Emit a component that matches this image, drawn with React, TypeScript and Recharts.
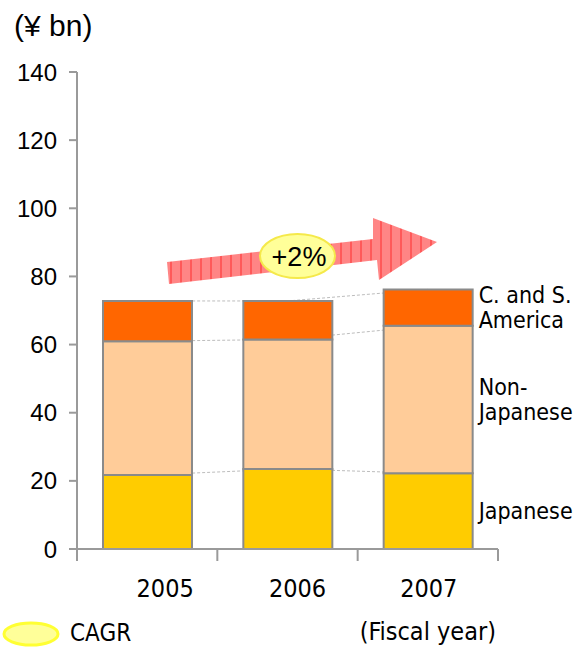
import { Bar, ComposedChart, LabelList, Line, XAxis, YAxis } from "recharts"

const years = ["2005", "2006", "2007"]
const japanese = [21.7, 23.5, 22.2]
const nonJapanese = [39.3, 38.0, 43.3]
const csAmerica = [11.8, 11.3, 10.7]
const yTicks = [0, 20, 40, 60, 80, 100, 120, 140]
const cagr = "+2%"

// stacked rows plus running totals for the dashed series lines
const rows = years.map((year, i) => ({
  year,
  japanese: japanese[i],
  nonJapanese: nonJapanese[i],
  csAmerica: csAmerica[i],
  top1: japanese[i],
  top2: japanese[i] + nonJapanese[i],
  top3: japanese[i] + nonJapanese[i] + csAmerica[i],
}))

const axisGray = "#9a9a9a"
const arial = "'Liberation Sans', Arial, sans-serif"
const tahoma = "'DejaVu Sans Condensed', 'DejaVu Sans', sans-serif"

// year labels sit a little right of the bar centres
const labelNudge = [18, 10, 1]

function YearTick(props: any) {
  const { x, y, payload, index } = props
  const half = payload?.offset ?? 0
  const i = payload?.index ?? index
  return (
    <g>
      <line x1={x - half} y1={y} x2={x - half} y2={y + 12} stroke={axisGray} strokeWidth={2} />
      {i === years.length - 1 && (
        <line x1={x + half} y1={y} x2={x + half} y2={y + 12} stroke={axisGray} strokeWidth={2} />
      )}
      <text x={x + labelNudge[i]} y={y + 48} textAnchor="middle" fontSize={25} fontFamily={tahoma} fill="#000">
        {payload.value}
      </text>
    </g>
  )
}

function sideLabel(lines: string[]) {
  return (props: any) => {
    const { index, x, y, width, height } = props
    if (index !== years.length - 1) return null
    const left = Number(x) + Number(width) + 6
    const mid = Number(y) + Number(height) / 2
    const lh = 25
    const start = mid - ((lines.length - 1) * lh) / 2
    return (
      <text fontSize={23} fontFamily={tahoma} fill="#000">
        {lines.map((l, k) => (
          <tspan key={k} x={left} y={start + k * lh} dy="0.36em">
            {l}
          </tspan>
        ))}
      </text>
    )
  }
}

function Overlay() {
  return (
    <svg width={575} height={647} style={{ position: "absolute", left: 0, top: 0, pointerEvents: "none" }}>
      <defs>
        <pattern id="stripes" width={10} height={10} patternUnits="userSpaceOnUse">
          <rect width={10} height={10} fill="#ff8585" />
          <line x1={1} y1={0} x2={1} y2={10} stroke="#ff3b3b" strokeWidth={1.2} />
        </pattern>
      </defs>
      <text x={14} y={36} fontSize={30} fontFamily={arial} fill="#000">
        (¥ bn)
      </text>
      <polygon
        points="167,262 373,239 373,218 437,242 379,280 377,260 169,284"
        fill="url(#stripes)"
      />
      <ellipse cx={297.5} cy={256} rx={37.5} ry={22} fill="#ffff99" stroke="#f5e94a" strokeWidth={2} />
      <text x={299} y={266} textAnchor="middle" fontSize={27} fontFamily={arial} fill="#000">
        {cagr}
      </text>
      <ellipse cx={31} cy={634} rx={27} ry={11} fill="#ffff99" stroke="#ffff33" strokeWidth={3} />
      <text x={70} y={641} fontSize={24} fontFamily={tahoma} fill="#000">
        CAGR
      </text>
      <text x={496} y={640} textAnchor="end" fontSize={25} fontFamily={tahoma} fill="#000">
        (Fiscal year)
      </text>
    </svg>
  )
}

export default function App() {
  return (
    <div style={{ position: "relative", width: 575, height: 647, background: "#fff" }}>
      <style>{"body{margin:0}"}</style>
      <ComposedChart width={575} height={647} data={rows} margin={{ top: 72, right: 77, left: 0, bottom: 0 }}>
        <XAxis
          dataKey="year"
          height={98}
          tickLine={false}
          tickSize={0}
          tickMargin={0}
          axisLine={{ stroke: axisGray, strokeWidth: 2 }}
          tick={<YearTick />}
          interval={0}
        />
        <YAxis
          width={77}
          domain={[0, 140]}
          ticks={yTicks}
          interval={0}
          tickSize={8}
          tickMargin={12}
          axisLine={{ stroke: axisGray, strokeWidth: 2 }}
          tickLine={{ stroke: axisGray, strokeWidth: 2 }}
          tick={{ fill: "#000", fontSize: 24, fontFamily: arial }}
        />
        {["top1", "top2", "top3"].map((k) => (
          <Line
            key={k}
            dataKey={k}
            type="linear"
            stroke="#bdbdbd"
            strokeWidth={1}
            strokeDasharray="3 2"
            dot={false}
            activeDot={false}
            isAnimationActive={false}
            zIndex={250}
          />
        ))}
        <Bar dataKey="japanese" stackId="a" fill="#ffcc00" stroke="#8a8a8a" strokeWidth={2} barSize={89} isAnimationActive={false}>
          <LabelList content={sideLabel(["Japanese"])} />
        </Bar>
        <Bar dataKey="nonJapanese" stackId="a" fill="#ffcc99" stroke="#8a8a8a" strokeWidth={2} barSize={89} isAnimationActive={false}>
          <LabelList content={sideLabel(["Non-", "Japanese"])} />
        </Bar>
        <Bar dataKey="csAmerica" stackId="a" fill="#ff6600" stroke="#8a8a8a" strokeWidth={2} barSize={89} isAnimationActive={false}>
          <LabelList content={sideLabel(["C. and S.", "America"])} />
        </Bar>
      </ComposedChart>
      <Overlay />
    </div>
  )
}
